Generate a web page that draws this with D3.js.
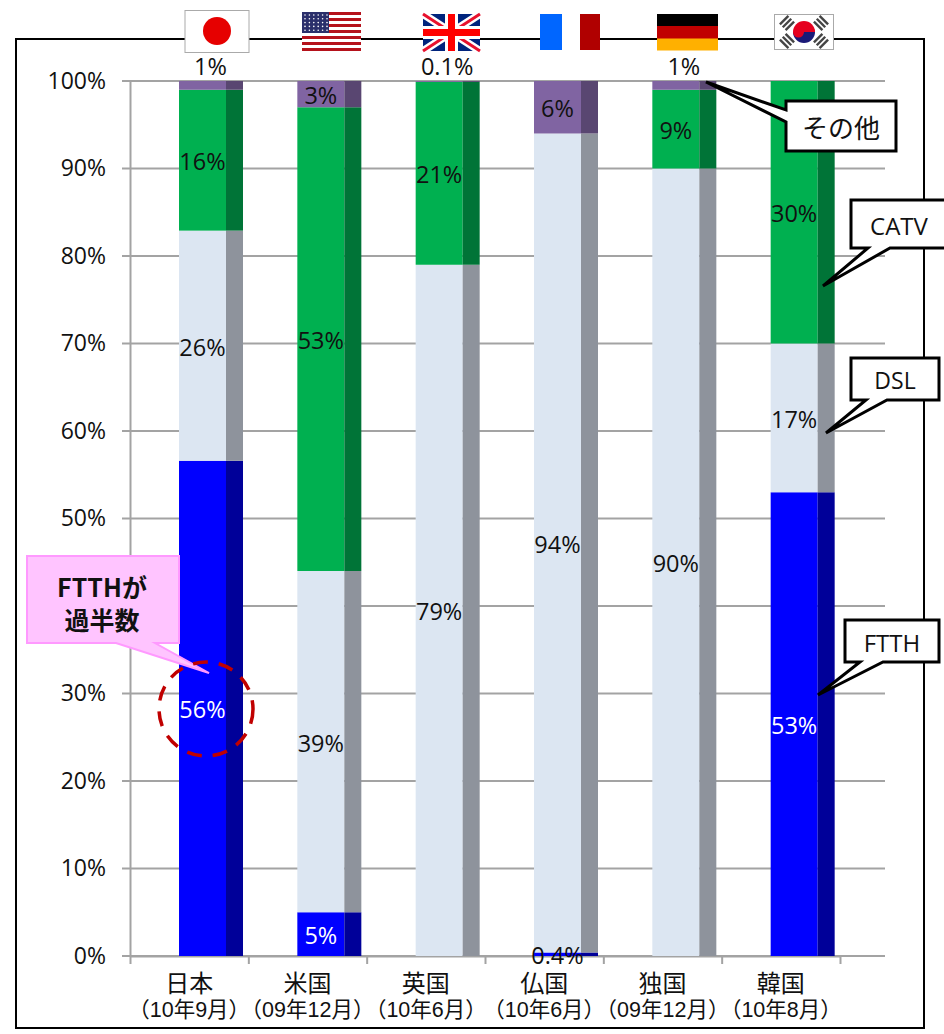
<!DOCTYPE html>
<html><head><meta charset="utf-8">
<script src="https://cdn.jsdelivr.net/npm/d3@7/dist/d3.min.js"></script>
<style>
html,body{margin:0;padding:0;background:#fff}
svg{display:block}
text{font-family:"Open Sans","Noto Sans CJK JP",sans-serif;fill:#111}
.cjk{font-family:"Liberation Sans","Noto Sans CJK JP",sans-serif}
</style></head><body><div id="c"></div>
<script>
const categories=["日本","米国","英国","仏国","独国","韓国"];
const periods=["（10年9月）","（09年12月）","（10年6月）","（10年6月）","（09年12月）","（10年8月）"];
const yTicks=[0,10,20,30,40,50,60,70,80,90,100];
const ftth=[56.6,5,0,0.4,0,53];
const dsl=[26.3,39,79,93.6,90,17];
const catv=[16.1,53,20.9,0,9,30];
const other=[1,3,0.1,6,1,0];
const ftthLabels=["56%","5%","","0.4%","","53%"];
const dslLabels=["26%","39%","79%","94%","90%","17%"];
const catvLabels=["16%","53%","21%","","9%","30%"];
const otherLabels=["1%","3%","0.1%","6%","1%",""];
const seriesNames=["FTTH","DSL","CATV","その他"];

const W=944,H=1034;
const svg=d3.select("#c").append("svg").attr("width",W).attr("height",H);
const y=d3.scaleLinear().domain([0,100]).range([956,81]);
const x=d3.scaleBand().domain(categories).range([130,840]);
const edge=d3.scaleLinear().domain([0,6]).range([130,840]);
const barOff=49,frontW=47,sideW=17;

svg.append("rect").attr("x",16).attr("y",39).attr("width",908).attr("height",989)
  .attr("fill","#fff").attr("stroke","#000").attr("stroke-width",2);

// grid
const grey="#a3a3a3";
svg.append("g").selectAll("line").data(yTicks).join("line")
  .attr("x1",122).attr("x2",885).attr("y1",d=>y(d)).attr("y2",d=>y(d))
  .attr("stroke",grey).attr("stroke-width",2);
// axes
const yAxis=d3.axisLeft(y).tickValues(yTicks).tickFormat(d=>d+"%").tickSize(0).tickPadding(24);
const gy=svg.append("g").attr("transform","translate(130,0)").call(yAxis);
gy.select(".domain").attr("stroke",grey).attr("stroke-width",2);
gy.selectAll("text").attr("font-size",23).style("fill","#111");
const xAxis=d3.axisBottom(edge).tickValues(d3.range(7)).tickFormat("").tickSize(8).tickSizeOuter(0);
const gx=svg.append("g").attr("transform","translate(0,956)").call(xAxis);
gx.select(".domain").attr("stroke",grey).attr("stroke-width",2);
gx.selectAll("line").attr("stroke",grey).attr("stroke-width",2);

// bars
const rows=categories.map((c,i)=>({c,FTTH:ftth[i],DSL:dsl[i],CATV:catv[i],"その他":other[i]}));
const stack=d3.stack().keys(seriesNames)(rows);
const front={"FTTH":"#0000ff","DSL":"#dce6f2","CATV":"#00b050","その他":"#8064a2"};
const side={"FTTH":"#000099","DSL":"#8e939c","CATV":"#007437","その他":"#594671"};
const labels={"FTTH":ftthLabels,"DSL":dslLabels,"CATV":catvLabels,"その他":otherLabels};
stack.forEach(s=>{
  const g=svg.append("g");
  g.selectAll(".f").data(s).join("rect").attr("class","f")
    .attr("x",d=>x(d.data.c)+barOff).attr("width",frontW)
    .attr("y",d=>y(d[1])).attr("height",d=>y(d[0])-y(d[1])).attr("fill",front[s.key]);
  g.selectAll(".s").data(s).join("rect").attr("class","s")
    .attr("x",d=>x(d.data.c)+barOff+frontW).attr("width",sideW)
    .attr("y",d=>y(d[1])).attr("height",d=>y(d[0])-y(d[1])).attr("fill",side[s.key]);
});

// callouts
function callout(pts,fill,stroke,sw){
  svg.append("path").attr("d","M"+pts.map(p=>p.join(",")).join("L")+"Z")
   .attr("fill",fill).attr("stroke",stroke).attr("stroke-width",sw).attr("stroke-linejoin","miter");
}
callout([[786,101],[896,101],[896,151],[786,151],[786,122],[706,82],[786,110]],"#fff","#000",3);
callout([[851,200],[946,200],[946,248],[890,248],[823,286],[868,248],[851,248]],"#fff","#000",3);
callout([[851,358],[939,358],[939,400],[887,400],[826,433],[866,400],[851,400]],"#fff","#000",3);
callout([[845,620],[939,620],[939,662],[883,662],[818,695],[860,662],[845,662]],"#fff","#000",3);
callout([[27,556],[179,556],[179,643],[155,643],[209,673],[116,643],[27,643]],"#ffc4ff","#ff99ff",2);
svg.append("circle").attr("cx",206).attr("cy",709).attr("r",47).attr("fill","none")
  .attr("stroke","#c00000").attr("stroke-width",3.5).attr("stroke-dasharray","15,11");

// data labels
stack.forEach(s=>{
  svg.append("g").selectAll("text").data(s).join("text")
   .text((d,i)=>labels[s.key][i])
   .attr("text-anchor","middle").attr("dominant-baseline","central").attr("font-size",23.5)
   .attr("x",(d)=>{
     const small=s.key==="その他"&&d[1]-d[0]<2;
     return x(d.data.c)+barOff+frontW/2+(small?8:0);
   })
   .attr("y",d=>(s.key==="その他"&&d[1]-d[0]<2)?y(100)-15:y((d[0]+d[1])/2)+1)
   .style("fill",d=>s.key==="FTTH"&&d[1]>1?"#fff":"#111");
});

// category labels
svg.append("g").selectAll("text").data(categories).join("text").text(d=>d)
  .attr("x",d=>x(d)+x.bandwidth()/2).attr("y",992).attr("text-anchor","middle")
  .attr("font-size",24).style("font-family",'"Noto Sans CJK JP",sans-serif');
svg.append("g").selectAll("text").data(periods).join("text").attr("class","cjk").text(d=>d)
  .attr("x",(d,i)=>x(categories[i])+x.bandwidth()/2).attr("y",1017).attr("text-anchor","middle")
  .attr("font-size",21.5);

// callout text
function t(s,cx,cy,size,weight,font){
  svg.append("text").text(s).attr("x",cx).attr("y",cy).attr("text-anchor","middle")
    .attr("dominant-baseline","central").attr("font-size",size).attr("font-weight",weight||400)
    .style("font-family",font||'"Noto Sans CJK JP",sans-serif');
}
t("その他",841,126,26);
t("CATV",899,225,24,400,'"Open Sans",sans-serif');
t("DSL",895,380,23,400,'"Open Sans",sans-serif');
t("FTTH",892,642,24,400,'"Open Sans",sans-serif');
t("FTTHが",102,586,25,700);
t("過半数",102,619,25,700);

// flags
function flagFrame(x0,y0,w,h,fill,stroke){
  return svg.append("rect").attr("x",x0).attr("y",y0).attr("width",w).attr("height",h).attr("fill",fill).attr("stroke",stroke||"none");
}
// Japan
flagFrame(185,10.5,64,42,"#fff","#aaa");
svg.append("circle").attr("cx",217).attr("cy",31).attr("r",14).attr("fill","#e60000");
// USA
flagFrame(302,12,59,39,"#fff");
for(let i=0;i<7;i++) svg.append("rect").attr("x",302).attr("y",12+i*6).attr("width",59).attr("height",3).attr("fill","#b5121b");
flagFrame(302,12,27,21,"#2b2f6b");
for(let r=0;r<5;r++)for(let c=0;c<6;c++) svg.append("circle").attr("cx",305+c*4.4).attr("cy",15+r*3.8).attr("r",0.8).attr("fill","#fff");
// UK
flagFrame(423,14,57,37,"#00247d");
const uk=svg.append("g");
[[423,14,480,51],[480,14,423,51]].forEach(a=>{
 uk.append("line").attr("x1",a[0]).attr("y1",a[1]).attr("x2",a[2]).attr("y2",a[3]).attr("stroke","#fff").attr("stroke-width",8);
 uk.append("line").attr("x1",a[0]).attr("y1",a[1]).attr("x2",a[2]).attr("y2",a[3]).attr("stroke","#e8112d").attr("stroke-width",3);
});
uk.append("rect").attr("x",423).attr("y",26).attr("width",57).attr("height",13).attr("fill","#fff");
uk.append("rect").attr("x",445).attr("y",14).attr("width",13).attr("height",37).attr("fill","#fff");
uk.append("rect").attr("x",423).attr("y",29).attr("width",57).attr("height",7).attr("fill","#f00");
uk.append("rect").attr("x",448).attr("y",14).attr("width",7).attr("height",37).attr("fill","#f00");
// France
flagFrame(540,14,22,36,"#0066ff");
flagFrame(562,14,18,36,"#fff");
flagFrame(580,14,20,36,"#b00000");
// Germany
flagFrame(657,14,61,12,"#000");
flagFrame(657,26,61,13,"#c00000");
flagFrame(657,38.5,61,12,"#ffb000");
// Korea
flagFrame(774.5,14.5,59,35,"#fff","#aaa");
svg.append("path").attr("d","M793,32a11,11 0 0 1 22,0z").attr("fill","#e6001f");
svg.append("path").attr("d","M793,32a11,11 0 0 0 22,0z").attr("fill","#1b1a78");
svg.append("path").attr("d","M793,32a5.5,5.5 0 0 0 11,0a5.5,5.5 0 0 1 11,0").attr("fill","#e6001f");
[[787,23,1],[821,23,-1],[787,41,-1],[821,41,1]].forEach(k=>{
  const g=svg.append("g").attr("transform",`translate(${k[0]},${k[1]}) rotate(${k[2]*-45})`);
  [-4,0,4].forEach(o=>g.append("rect").attr("x",-6).attr("y",o-1.2).attr("width",12).attr("height",2.4).attr("fill","#444"));
});
</script></body></html>
